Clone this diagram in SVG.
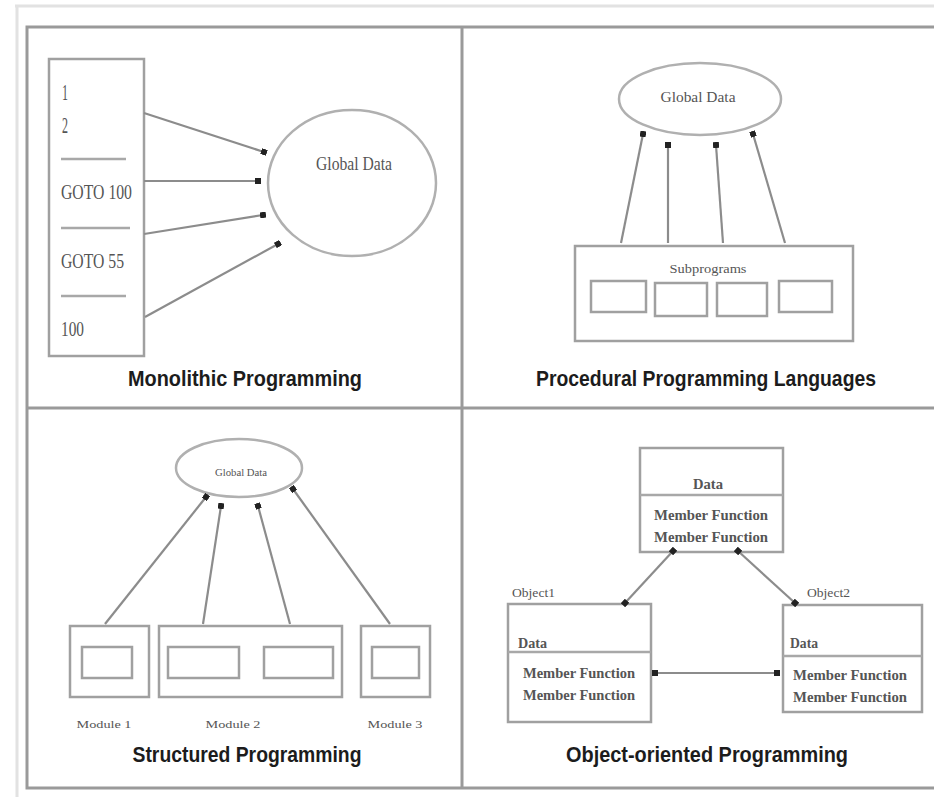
<svg xmlns="http://www.w3.org/2000/svg" width="934" height="797" viewBox="0 0 934 797">
<defs>
<style>
.frame{fill:none;stroke:#9a9a9a;stroke-width:3}
.faint{fill:none;stroke:#e2e2e2;stroke-width:3}
.box{fill:none;stroke:#a0a0a0;stroke-width:2.5}
.ell{fill:none;stroke:#b0b0b0;stroke-width:2.5}
.sep{stroke:#a8a8a8;stroke-width:2.5}
.con{stroke:#8c8c8c;stroke-width:2.2;fill:none}
.t{font-family:"Liberation Serif","DejaVu Serif",serif;fill:#555}
.title{font-family:"Liberation Sans","DejaVu Sans",sans-serif;font-weight:bold;fill:#1c1c1c;font-size:22px}
</style>
<marker id="dot" viewBox="0 0 6 6" refX="3" refY="3" markerWidth="6" markerHeight="6" markerUnits="userSpaceOnUse" orient="auto">
<rect x="0" y="0" width="6" height="6" fill="#222"/>
</marker>
</defs>
<rect width="934" height="797" fill="#fff"/>
<g id="frame">
<path class="faint" d="M15 6H934M17 6V797"/>
<path class="frame" d="M934 27H27V788H934"/>
<path class="frame" d="M462 27V788M27 408H934"/>
</g>

<g id="monolithic">
<g id="mono-code">
<rect class="box" x="49" y="59" width="95" height="297"/>
<text class="t" x="62" y="100" font-size="24" textLength="6" lengthAdjust="spacingAndGlyphs">1</text>
<text class="t" x="62" y="133" font-size="24" textLength="6" lengthAdjust="spacingAndGlyphs">2</text>
<line class="sep" x1="61" y1="159" x2="126" y2="159"/>
<text class="t" x="61" y="199" font-size="21" textLength="71" lengthAdjust="spacingAndGlyphs">GOTO 100</text>
<line class="sep" x1="61" y1="228" x2="130" y2="228"/>
<text class="t" x="61" y="268" font-size="21" textLength="63" lengthAdjust="spacingAndGlyphs">GOTO 55</text>
<line class="sep" x1="61" y1="296" x2="126" y2="296"/>
<text class="t" x="61" y="336" font-size="21" textLength="23" lengthAdjust="spacingAndGlyphs">100</text>
</g>
<g id="mono-global">
<ellipse class="ell" cx="352" cy="183" rx="84" ry="73"/>
<text class="t" x="354" y="170" font-size="19" text-anchor="middle" textLength="76" lengthAdjust="spacingAndGlyphs">Global Data</text>
</g>
<text class="title" x="245" y="386" text-anchor="middle" textLength="234" lengthAdjust="spacingAndGlyphs">Monolithic Programming</text>
</g>

<g id="procedural">
<g id="proc-global">
<ellipse class="ell" cx="700" cy="99" rx="81" ry="36"/>
<text class="t" x="698" y="102" font-size="14" text-anchor="middle" textLength="75" lengthAdjust="spacingAndGlyphs">Global Data</text>
</g>
<g id="proc-subprograms">
<rect class="box" x="575" y="246" width="278" height="95"/>
<text class="t" x="708" y="273" font-size="13" text-anchor="middle" textLength="77" lengthAdjust="spacingAndGlyphs">Subprograms</text>
<rect class="box" x="591" y="281" width="55" height="31"/>
<rect class="box" x="655" y="283" width="52" height="33"/>
<rect class="box" x="717" y="283" width="50" height="33"/>
<rect class="box" x="779" y="281" width="53" height="31"/>
</g>
<text class="title" x="706" y="386" text-anchor="middle" textLength="340" lengthAdjust="spacingAndGlyphs">Procedural Programming Languages</text>
</g>

<g id="structured">
<g id="struct-global">
<ellipse class="ell" cx="239" cy="468" rx="63" ry="29"/>
<text class="t" x="241" y="476" font-size="10" text-anchor="middle" textLength="52" lengthAdjust="spacingAndGlyphs">Global Data</text>
</g>
<g id="module1">
<rect class="box" x="70" y="626" width="79" height="71"/>
<rect class="box" x="82" y="647" width="50" height="31"/>
<text class="t" x="104" y="728" font-size="11" text-anchor="middle" textLength="55" lengthAdjust="spacingAndGlyphs">Module 1</text>
</g>
<g id="module2">
<rect class="box" x="159" y="626" width="183" height="71"/>
<rect class="box" x="168" y="647" width="71" height="31"/>
<rect class="box" x="264" y="647" width="69" height="31"/>
<text class="t" x="233" y="728" font-size="11" text-anchor="middle" textLength="55" lengthAdjust="spacingAndGlyphs">Module 2</text>
</g>
<g id="module3">
<rect class="box" x="361" y="626" width="69" height="71"/>
<rect class="box" x="372" y="647" width="47" height="31"/>
<text class="t" x="395" y="728" font-size="11" text-anchor="middle" textLength="55" lengthAdjust="spacingAndGlyphs">Module 3</text>
</g>
<text class="title" x="247" y="762" text-anchor="middle" textLength="229" lengthAdjust="spacingAndGlyphs">Structured Programming</text>
</g>

<g id="oop">
<g id="obj-top">
<rect class="box" x="640" y="448" width="143" height="104"/>
<line class="sep" x1="640" y1="495" x2="783" y2="495"/>
<text class="t" x="708" y="489" font-size="14" font-weight="bold" text-anchor="middle" textLength="30" lengthAdjust="spacingAndGlyphs">Data</text>
<text class="t" x="711" y="520" font-size="14" font-weight="bold" text-anchor="middle" textLength="114" lengthAdjust="spacingAndGlyphs">Member Function</text>
<text class="t" x="711" y="542" font-size="14" font-weight="bold" text-anchor="middle" textLength="114" lengthAdjust="spacingAndGlyphs">Member Function</text>
</g>
<g id="obj-left">
<text class="t" x="512" y="597" font-size="12" textLength="43" lengthAdjust="spacingAndGlyphs">Object1</text>
<rect class="box" x="508" y="604" width="143" height="118"/>
<line class="sep" x1="508" y1="652" x2="651" y2="652"/>
<text class="t" x="518" y="648" font-size="14" font-weight="bold" textLength="29" lengthAdjust="spacingAndGlyphs">Data</text>
<text class="t" x="579" y="678" font-size="14" font-weight="bold" text-anchor="middle" textLength="112" lengthAdjust="spacingAndGlyphs">Member Function</text>
<text class="t" x="579" y="700" font-size="14" font-weight="bold" text-anchor="middle" textLength="112" lengthAdjust="spacingAndGlyphs">Member Function</text>
</g>
<g id="obj-right">
<text class="t" x="807" y="597" font-size="12" textLength="43" lengthAdjust="spacingAndGlyphs">Object2</text>
<rect class="box" x="783" y="605" width="139" height="107"/>
<line class="sep" x1="783" y1="656" x2="922" y2="656"/>
<text class="t" x="790" y="648" font-size="14" font-weight="bold" textLength="28" lengthAdjust="spacingAndGlyphs">Data</text>
<text class="t" x="850" y="680" font-size="14" font-weight="bold" text-anchor="middle" textLength="114" lengthAdjust="spacingAndGlyphs">Member Function</text>
<text class="t" x="850" y="702" font-size="14" font-weight="bold" text-anchor="middle" textLength="114" lengthAdjust="spacingAndGlyphs">Member Function</text>
</g>
<text class="title" x="707" y="762" text-anchor="middle" textLength="282" lengthAdjust="spacingAndGlyphs">Object-oriented Programming</text>
</g>

<g id="connectors">
<line class="con" x1="144" y1="113" x2="264" y2="152" marker-end="url(#dot)"/>
<line class="con" x1="144" y1="181" x2="258" y2="181" marker-end="url(#dot)"/>
<line class="con" x1="144" y1="234" x2="263" y2="215" marker-end="url(#dot)"/>
<line class="con" x1="145" y1="317" x2="278" y2="244" marker-end="url(#dot)"/>

<line class="con" x1="621" y1="243" x2="643" y2="134" marker-end="url(#dot)"/>
<line class="con" x1="668" y1="243" x2="668" y2="145" marker-end="url(#dot)"/>
<line class="con" x1="723" y1="243" x2="716" y2="145" marker-end="url(#dot)"/>
<line class="con" x1="785" y1="243" x2="753" y2="134" marker-end="url(#dot)"/>

<line class="con" x1="105" y1="624" x2="206" y2="497" marker-end="url(#dot)"/>
<line class="con" x1="203" y1="624" x2="221" y2="506" marker-end="url(#dot)"/>
<line class="con" x1="290" y1="624" x2="258" y2="506" marker-end="url(#dot)"/>
<line class="con" x1="390" y1="624" x2="293" y2="489" marker-end="url(#dot)"/>

<line class="con" x1="673" y1="551" x2="625" y2="603" marker-start="url(#dot)" marker-end="url(#dot)"/>
<line class="con" x1="738" y1="551" x2="795" y2="603" marker-start="url(#dot)" marker-end="url(#dot)"/>
<line class="con" x1="655" y1="673" x2="777" y2="673" marker-start="url(#dot)" marker-end="url(#dot)"/>
</g>
</svg>
